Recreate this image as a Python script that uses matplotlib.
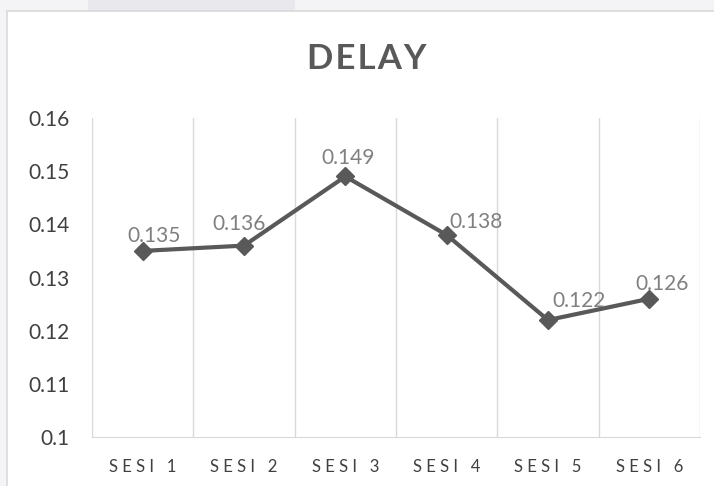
import matplotlib.pyplot as plt
from matplotlib.patches import Rectangle

# data
sessions = ['SESI 1', 'SESI 2', 'SESI 3', 'SESI 4', 'SESI 5', 'SESI 6']
delay = [0.135, 0.136, 0.149, 0.138, 0.122, 0.126]
y_ticks = [0.1, 0.11, 0.12, 0.13, 0.14, 0.15, 0.16]
y_tick_labels = ['0.1', '0.11', '0.12', '0.13', '0.14', '0.15', '0.16']

# label nudges in pixels (as placed in the original)
label_offsets = [(11, 9), (-5, 16), (3, 12), (29, 7), (31, 13), (13, 9)]

W, H = 714, 486
FONT = ['Lato', 'DejaVu Sans']
fig = plt.figure(figsize=(W / 100, H / 100), dpi=100)
fig.patch.set_facecolor('#f4f4f7')

# page background bits + chart box
fig.patches.append(Rectangle((88 / W, 1 - 11 / H), 207 / W, 11 / H, transform=fig.transFigure,
                             facecolor='#e9e9ed', edgecolor='none', zorder=-2))
fig.patches.append(Rectangle((7 / W, -0.01), 1.0, 1 - 11 / H + 0.01, transform=fig.transFigure,
                             facecolor='white', edgecolor='#d9d9d9', linewidth=1.2, zorder=-2))

ax = fig.add_axes([92 / W, 1 - 437 / H, 608 / W, 319 / H])
ax.set_facecolor('none')
ax.set_zorder(2)

x = list(range(len(sessions)))
ax.plot(x, delay, color='#595959', linewidth=3, marker='D', markersize=9, zorder=3)

for xi, v, off in zip(x, delay, label_offsets):
    ax.annotate(f'{v:g}', (xi, v), xytext=off, textcoords='offset pixels',
                ha='center', va='baseline', fontsize=15, color='#808080',
                family=FONT, zorder=4)

ax.set_xlim(-0.5, len(sessions) - 0.5)
ax.set_ylim(0.1, 0.16)
ax.set_yticks(y_ticks)
ax.set_yticklabels(y_tick_labels, fontsize=15, color='#404040', family=FONT)
ax.set_xticks(x)
spaced = [' '.join(s) for s in sessions]
ax.set_xticklabels(spaced, fontsize=12, color='#404040', family=FONT)

# vertical gridlines between categories
for b in range(len(sessions) + 1):
    ax.axvline(b - 0.5, color='#d9d9d9', linewidth=1, zorder=1)

for s in ['top', 'right', 'left']:
    ax.spines[s].set_visible(False)
ax.spines['bottom'].set_color('#d9d9d9')
ax.tick_params(axis='both', length=0)
ax.tick_params(axis='y', pad=16)
ax.tick_params(axis='x', pad=16)

fig.text(367 / W, 1 - 59 / H, '\u200a'.join('DELAY'), ha='center', va='center',
         fontsize=25, fontweight='bold', color='#595959', family=FONT)

fig.savefig('out.png', dpi=100)
